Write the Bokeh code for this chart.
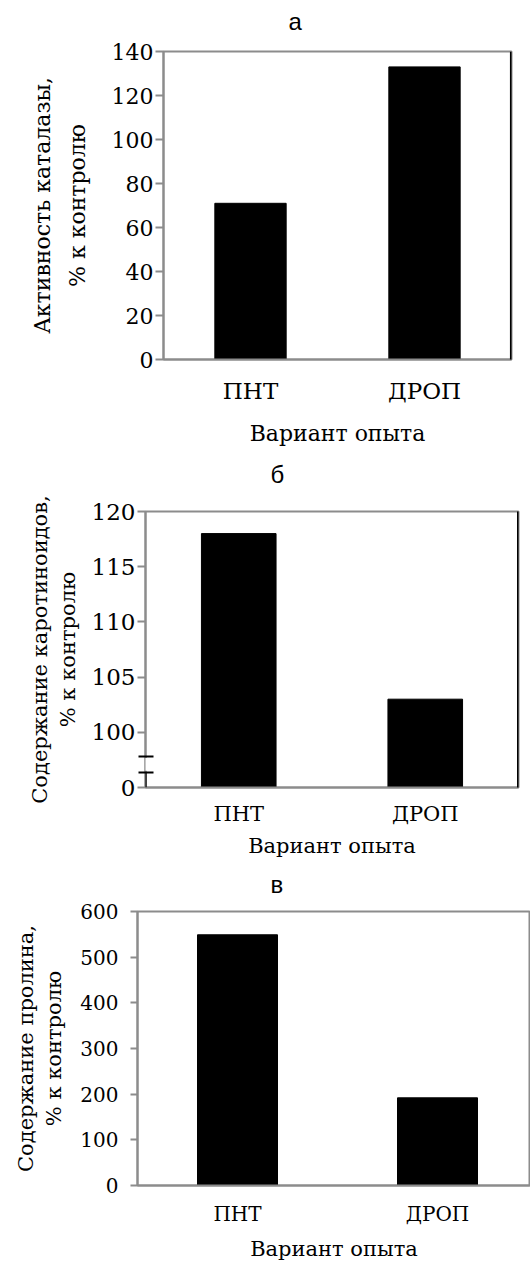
import numpy as np
from bokeh.plotting import figure
from bokeh.models import FixedTicker, Range1d, BoxAnnotation, LinearAxis
from bokeh.embed import file_html
from bokeh.resources import INLINE

# ---- data ----
categories = ["ПНТ", "ДРОП"]
catalase = [71, 133]
carotenoids = [118, 103]
proline = [549, 192]

ticks_a = [0, 20, 40, 60, 80, 100, 120, 140]
ticks_b = [95, 100, 105, 110, 115, 120]
tick_labels_b = ["0", "100", "105", "110", "115", "120"]
ticks_c = [0, 100, 200, 300, 400, 500, 600]

titles = ["а", "б", "в"]
x_label = "Вариант опыта"
ylabel_a = ["Активность каталазы,", "% к контролю"]
ylabel_b = ["Содержание каротиноидов,", "% к контролю"]
ylabel_c = ["Содержание пролина,", "% к контролю"]

GREY = "#8c8c8c"
SERIF = "DejaVu Serif"
SANS = "Liberation Sans"


def panel(title, t_off, t_gap, h, borders, x_end, y_lo, y_hi, ticks, values, bw,
          ylabel, tick_fs, xtick_fs, lab_fs, x_stand, xl_stand, y_tick_out, y_stand,
          yl_stand, yl2_stand):
    bl, br, bt, bb = borders
    p = figure(width=530, height=h, x_range=Range1d(0, x_end), y_range=Range1d(y_lo, y_hi),
               output_backend="svg", toolbar_location=None,
               min_border_left=bl, min_border_right=br, min_border_top=bt, min_border_bottom=bb)
    p.grid.visible = False
    p.outline_line_color = GREY
    p.outline_line_width = 2

    xs = np.arange(len(categories)) + 0.5
    p.vbar(x=xs, top=values, bottom=y_lo, width=bw, fill_color="black", line_color="black")

    xa = p.xaxis[0]
    xa.ticker = FixedTicker(ticks=list(xs))
    xa.major_label_overrides = {float(x): c for x, c in zip(xs, categories)}
    xa.major_tick_line_color = None
    xa.minor_tick_line_color = None
    xa.axis_line_color = GREY
    xa.axis_line_width = 2
    xa.major_label_text_font = SERIF
    xa.major_label_text_font_size = f"{xtick_fs}px"
    xa.major_label_text_color = "black"
    xa.major_label_standoff = x_stand
    xa.axis_label = x_label
    xa.axis_label_text_font = SERIF
    xa.axis_label_text_font_size = f"{lab_fs}px"
    xa.axis_label_text_font_style = "normal"
    xa.axis_label_text_color = "black"
    xa.axis_label_standoff = xl_stand

    ya = p.yaxis[0]
    ya.ticker = FixedTicker(ticks=ticks)
    ya.minor_tick_line_color = None
    ya.major_tick_in = 0
    ya.major_tick_out = y_tick_out
    ya.major_tick_line_color = GREY
    ya.major_tick_line_width = 2
    ya.axis_line_color = GREY
    ya.axis_line_width = 2
    ya.major_label_text_font = SERIF
    ya.major_label_text_font_size = f"{tick_fs}px"
    ya.major_label_text_color = "black"
    ya.major_label_standoff = y_stand
    ya.axis_label = ylabel[1]
    ya.axis_label_text_font = SERIF
    ya.axis_label_text_font_size = f"{lab_fs}px"
    ya.axis_label_text_font_style = "normal"
    ya.axis_label_text_color = "black"
    ya.axis_label_standoff = yl_stand

    # first line of the y label, further out
    y2 = LinearAxis(ticker=FixedTicker(ticks=[]), axis_line_color=None,
                    major_tick_out=0, major_tick_in=0, major_label_standoff=0,
                    major_label_text_font_size="0px", minor_tick_line_color=None,
                    axis_label=ylabel[0], axis_label_text_font=SERIF,
                    axis_label_text_font_size=f"{lab_fs}px", axis_label_text_font_style="normal",
                    axis_label_text_color="black", axis_label_standoff=yl2_stand)
    p.add_layout(y2, "left")

    # spacer between the frame and the title (one invisible tick)
    sp = LinearAxis(ticker=FixedTicker(ticks=[x_end / 2]), axis_line_color=None,
                    major_tick_out=t_gap, major_tick_in=0, major_tick_line_color=None,
                    minor_tick_line_color=None, major_label_standoff=0,
                    major_label_overrides={x_end / 2: ""},
                    major_label_text_font_size="0px")
    p.add_layout(sp, "above")

    p.title.text = title
    p.title.align = "left"
    p.title.offset = t_off
    p.title.standoff = 4
    p.title.text_font = SANS
    p.title.text_font_size = "24px"
    p.title.text_font_style = "normal"
    p.title.text_color = "black"
    return p


pa = panel(titles[0], 125, 15, 455, (163, 19, 51, 96), 2.0, 0, 140, ticks_a, catalase, 0.41,
           ylabel_a, 22, 23, 22, 12, 14, 8, 2, 19, 7)
pa.add_layout(BoxAnnotation(left=2.0 - 0.009, right=2.0 + 0.009, bottom=-3.6, top=140,
                            fill_color="black", fill_alpha=1, line_color=None, level="overlay"))

pb = panel(titles[1], 125, 22, 410, (145, 12, 56, 78), 2.0, 95, 120, ticks_b, carotenoids, 0.40,
           ylabel_b, 23, 21, 21, 8, 5, 8, 2, 9, 1)
pb.yaxis[0].major_label_overrides = {t: l for t, l in zip(ticks_b, tick_labels_b)}
pb.yaxis[0].ticker = FixedTicker(ticks=ticks_b, minor_ticks=[96.4, 97.8])
pb.yaxis[0].minor_tick_line_color = "black"
pb.yaxis[0].minor_tick_line_width = 2
pb.yaxis[0].minor_tick_in = 8
pb.yaxis[0].minor_tick_out = 7
pb.add_layout(BoxAnnotation(left=2.0 - 0.008, right=2.0 + 0.008, bottom=94.55, top=120.25,
                            fill_color="black", fill_alpha=1, line_color=None, level="overlay"))
pb.add_layout(BoxAnnotation(left=-0.02, right=0.012, bottom=96.52, top=97.68,
                            fill_color="white", fill_alpha=1, line_color=None, level="overlay"))
pb.add_layout(BoxAnnotation(left=-0.006, right=0.006, bottom=95, top=96.4,
                            fill_color="black", fill_alpha=1, line_color=None, level="overlay"))

pc = panel(titles[2], 133, 12, 398, (137, 0, 46, 72), 1.965, 0, 600, ticks_c, proline, 0.40,
           ylabel_c, 20, 20, 21, 10, 8, 7, 12, 11, 2)

open("out.html", "w").write(file_html([pa, pb, pc], INLINE))
